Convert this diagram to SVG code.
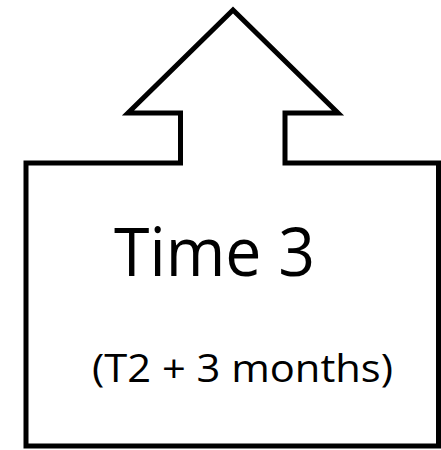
<svg xmlns="http://www.w3.org/2000/svg" width="441" height="450" viewBox="0 0 441 450">
  <style>
    .outline { fill: #ffffff; stroke: #000000; stroke-width: 5; stroke-linejoin: miter; }
    .label { font-family: "Open Sans", "Noto Sans", sans-serif; fill: #000000; }
  </style>
  <rect width="441" height="450" fill="#ffffff"/>
  <g id="time3">
    <!-- box with an upward arrow rising from its top edge -->
    <path class="outline" d="M26,163 L180.5,163 L180.5,113 L128,113 L233,10 L338,113 L285,113 L285,163 L438.5,163 L438.5,446 L26,446 Z"/>
    <text class="label" x="114" y="276" font-size="67" textLength="201" lengthAdjust="spacingAndGlyphs">Time 3</text>
    <text class="label" x="92" y="382" font-size="38" textLength="301" lengthAdjust="spacingAndGlyphs">(T2 + 3 months)</text>
  </g>
</svg>
